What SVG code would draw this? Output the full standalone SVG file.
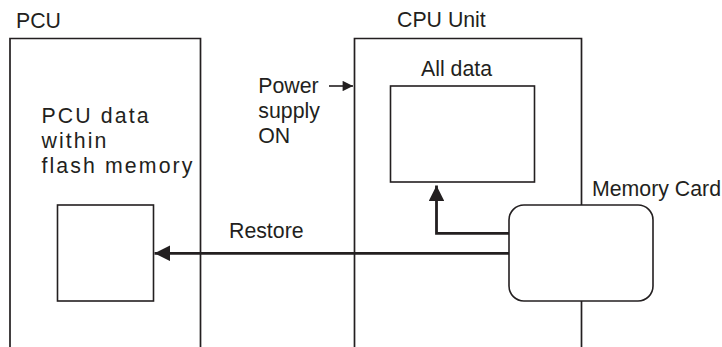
<svg xmlns="http://www.w3.org/2000/svg" width="722" height="347" viewBox="0 0 722 347">
<defs>
<style>
.box{fill:none;stroke:#231f20;stroke-width:1.7}
.inner{fill:#fff;stroke:#231f20;stroke-width:1.6}
.arr{fill:none;stroke:#231f20;stroke-width:2.8}
.thin{fill:none;stroke:#231f20;stroke-width:1.6}
.t{font-family:"Liberation Sans",Arial,sans-serif;font-size:21.3px;fill:#231f20}
.sp{letter-spacing:2.1px}
</style>
<marker id="ah" viewBox="0 0 10 10" refX="10" refY="5" markerWidth="5.6" markerHeight="5.6" orient="auto" markerUnits="strokeWidth">
<path d="M0,0 L10,5 L0,10 Z" fill="#231f20"/>
</marker>
<marker id="ahs" viewBox="0 0 10 10" refX="10" refY="5" markerWidth="8.5" markerHeight="6.5" orient="auto" markerUnits="strokeWidth">
<path d="M0,0 L10,5 L0,10 Z" fill="#231f20"/>
</marker>
</defs>
<rect width="722" height="347" fill="#fff"/>
<g id="pcu">
<text class="t" x="16" y="27.5">PCU</text>
<path class="box" d="M10,347 V38.5 H200.5 V347"/>
<text class="t sp" x="41.5" y="123.3">PCU data</text>
<text class="t sp" x="41.5" y="148">within</text>
<text class="t sp" x="41.5" y="172.7">flash memory</text>
<rect id="pcu-data" class="inner" x="57.5" y="205" width="96" height="96"/>
</g>
<g id="cpu">
<text class="t" x="397" y="27">CPU Unit</text>
<path class="box" d="M354.5,347 V38.5 H581.5 V347"/>
<text class="t" x="421" y="76">All data</text>
<rect id="all-data" class="inner" x="390.5" y="86" width="144" height="96"/>
<text class="t" x="258.3" y="93.3">Power</text>
<text class="t" x="258.3" y="118.3">supply</text>
<text class="t" x="258.3" y="143.3">ON</text>
</g>
<g id="connectors">
<line class="thin" x1="329" y1="86" x2="353" y2="86" marker-end="url(#ahs)"/>
<path class="arr" d="M509,233.3 H436.5 V185.5" marker-end="url(#ah)"/>
<line class="arr" x1="509" y1="253.3" x2="154.5" y2="253.3" marker-end="url(#ah)"/>
<text class="t" x="229" y="238.3">Restore</text>
</g>
<g id="memory-card">
<text class="t" x="592" y="196">Memory Card</text>
<rect class="inner" x="509" y="205" width="144" height="96" rx="15" ry="15"/>
</g>
</svg>
